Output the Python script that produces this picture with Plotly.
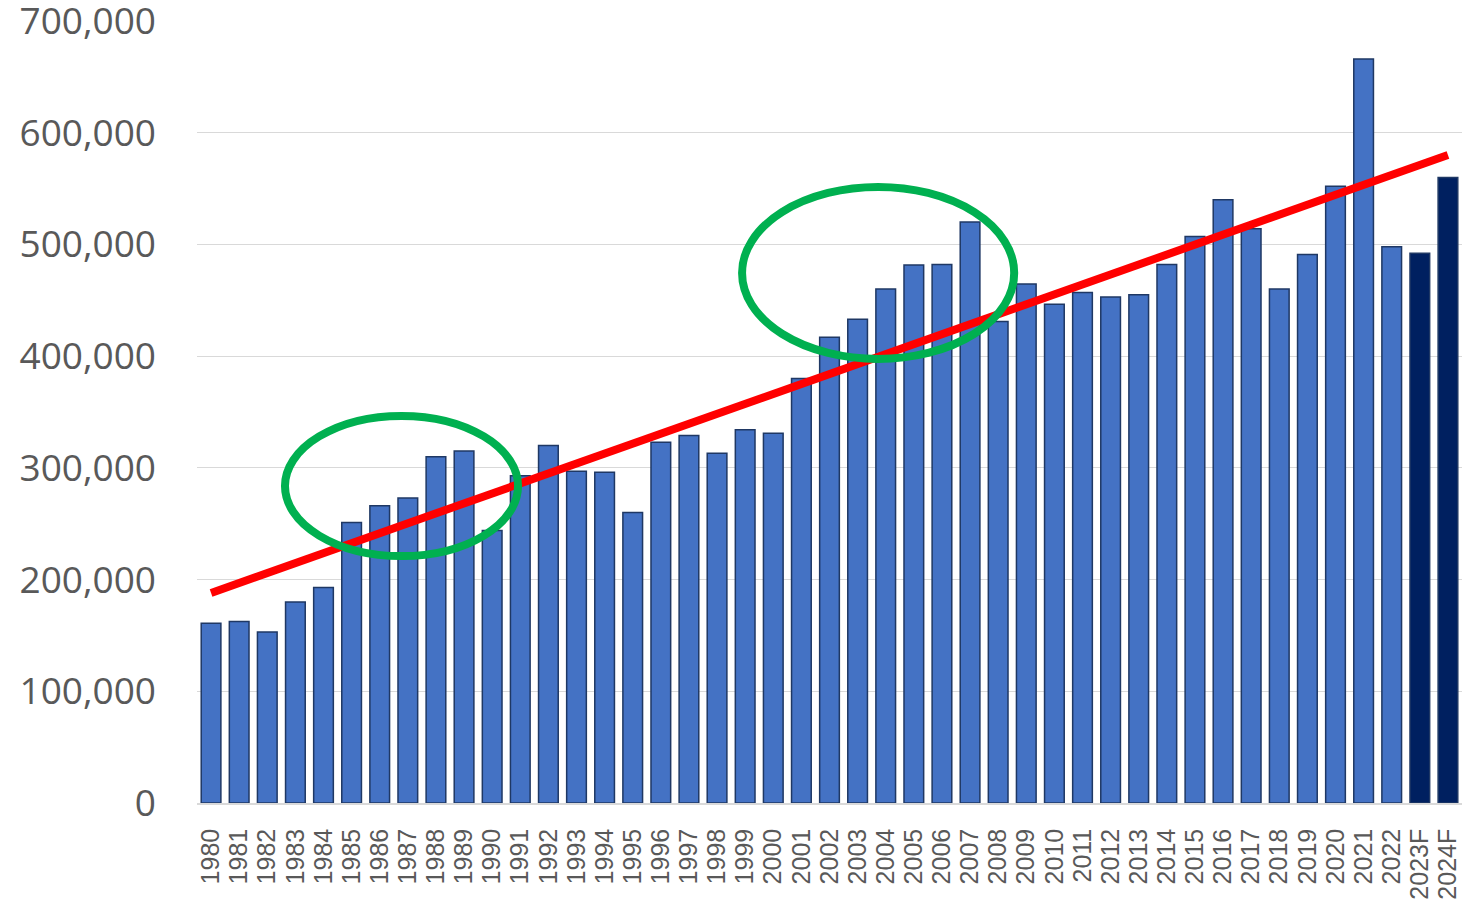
import plotly.graph_objects as go

years = [str(y) for y in range(1980, 2023)] + ["2023F", "2024F"]
values = [161000, 162500, 153000, 180000, 193000, 251000, 266000, 273000, 310000, 315000,
          244000, 293000, 320000, 297000, 296000, 260000, 323000, 329000, 313000, 334000,
          331000, 380000, 417000, 433000, 460000, 481500, 482000, 520000, 431000, 464500,
          446500, 457000, 453000, 455000, 482000, 507000, 540000, 514000, 460000, 491000,
          552000, 666000, 498000, 492000, 560000]
forecast = ["2023F", "2024F"]
trend_x = ["1980", "2024F"]
trend_y = [188000, 580000]
y_ticks = [0, 100000, 200000, 300000, 400000, 500000, 600000, 700000]

colors = ["#002060" if y in forecast else "#4472C4" for y in years]

fig = go.Figure()
fig.add_trace(go.Bar(x=years, y=values, marker=dict(color=colors, line=dict(color="#1F3864", width=1.5)),
                     showlegend=False))
fig.add_trace(go.Scatter(x=trend_x, y=trend_y, mode="lines", line=dict(color="#FF0000", width=8),
                         showlegend=False))

fig.add_shape(type="circle", xref="x", yref="y", x0=2.63, x1=10.92, y0=221000, y1=346500,
              line=dict(color="#00B050", width=8))
fig.add_shape(type="circle", xref="x", yref="y", x0=18.89, x1=28.57, y0=397500, y1=551500,
              line=dict(color="#00B050", width=8))

fig.update_layout(
    width=1462, height=900,
    margin=dict(l=197, r=0, t=21, b=97),
    plot_bgcolor="white", paper_bgcolor="white",
    bargap=0.3,
    font=dict(family="Open Sans", color="#595959"),
)
fig.update_yaxes(range=[0, 700000], tickvals=y_ticks, tickformat=",", showgrid=True,
                 gridcolor="#D9D9D9", gridwidth=1.3, zeroline=False, automargin=False,
                 tickfont=dict(family="Open Sans", size=37, color="#595959"),
                 ticklabelstandoff=40, ticklabeloverflow="allow")
fig.update_xaxes(type="category", tickmode="array", tickvals=years, ticktext=years,
                 tickangle=-90, showline=True, linecolor="#D9D9D9", linewidth=1.5, automargin=False,
                 tickfont=dict(family="Liberation Sans", size=25, color="#595959"),
                 ticklabelstandoff=14, ticklabeloverflow="allow")

fig.write_html("out.html", config={"displayModeBar": False},
               post_script="document.body.style.margin='0';document.body.style.overflow='hidden';")
